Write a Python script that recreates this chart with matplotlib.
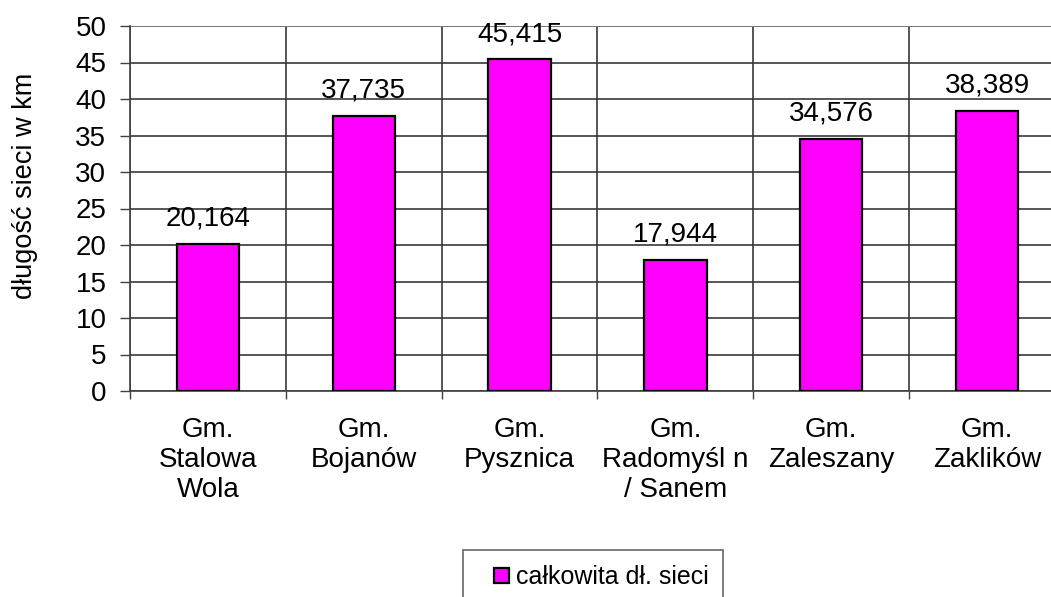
import matplotlib.pyplot as plt
from matplotlib.patches import Rectangle
from matplotlib.legend_handler import HandlerPatch

plt.rcParams['font.family'] = ['Liberation Sans', 'DejaVu Sans']

categories = ['Gm.\nStalowa\nWola', 'Gm.\nBojanów', 'Gm.\nPysznica',
              'Gm.\nRadomyśl n\n/ Sanem', 'Gm.\nZaleszany', 'Gm.\nZaklików']
values = [20.164, 37.735, 45.415, 17.944, 34.576, 38.389]
labels = ['20,164', '37,735', '45,415', '17,944', '34,576', '38,389']

fig = plt.figure(figsize=(10.51, 5.97), dpi=100)
# plot area runs past the right edge, as in the original
ax = fig.add_axes([130/1051, 206/597, 935/1051, 365/597])

x = range(len(values))
bars = ax.bar(x, values, width=0.4, color='#ff00ff', edgecolor='black',
              linewidth=1.6, zorder=3)

for xi, v, lab in zip(x, values, labels):
    ax.text(xi, v + 1.7, lab, ha='center', va='bottom', fontsize=20)

ax.set_xlim(-0.5, len(values) - 0.5)
ax.set_ylim(0, 50)
ax.set_yticks(range(0, 51, 5))
ax.tick_params(axis='y', labelsize=20, length=7, width=1, pad=10, color='#404040')

# category boundaries carry the ticks and vertical gridlines
ax.set_xticks([i + 0.5 for i in range(-1, len(values))], minor=False)
ax.set_xticklabels([])
ax.set_xticks(list(x), minor=True)
ax.set_xticklabels(categories, minor=True, fontsize=20, linespacing=1.2)
ax.tick_params(axis='x', which='major', length=6, width=1, color='#404040')
ax.tick_params(axis='x', which='minor', length=0, pad=19)

ax.grid(True, which='major', color='#383838', linewidth=1.2, zorder=0)
ax.set_axisbelow(True)
for s in ['top', 'right']:
    ax.spines[s].set_visible(False)
ax.spines['left'].set_color('#404040')
ax.spines['bottom'].set_color('#404040')
ax.spines['left'].set_linewidth(1.2)
ax.spines['bottom'].set_linewidth(1.2)
ax.axhline(50, color='#808080', linewidth=1.2, zorder=1)

fig.text(25/1051, 411/597, 'długość sieci w km', rotation=90,
         ha='center', va='center', fontsize=19.5)


def small_square(legend, orig_handle, xdescent, ydescent, width, height, fontsize):
    s = 11
    return Rectangle((width - s - xdescent, -ydescent + (height - s) / 2), s, s)


leg = fig.legend(handles=[bars.patches[0]], labels=['całkowita dł. sieci'],
                 loc='upper left', bbox_to_anchor=(463/1051, 47/597), fontsize=18,
                 frameon=True, fancybox=False, edgecolor='#404040',
                 handlelength=1.25, handleheight=0.7, handletextpad=0.25,
                 borderpad=0.6, borderaxespad=0,
                 handler_map={Rectangle: HandlerPatch(patch_func=small_square)})
leg.get_frame().set_linewidth(1.2)

fig.savefig('out.png', dpi=100)
